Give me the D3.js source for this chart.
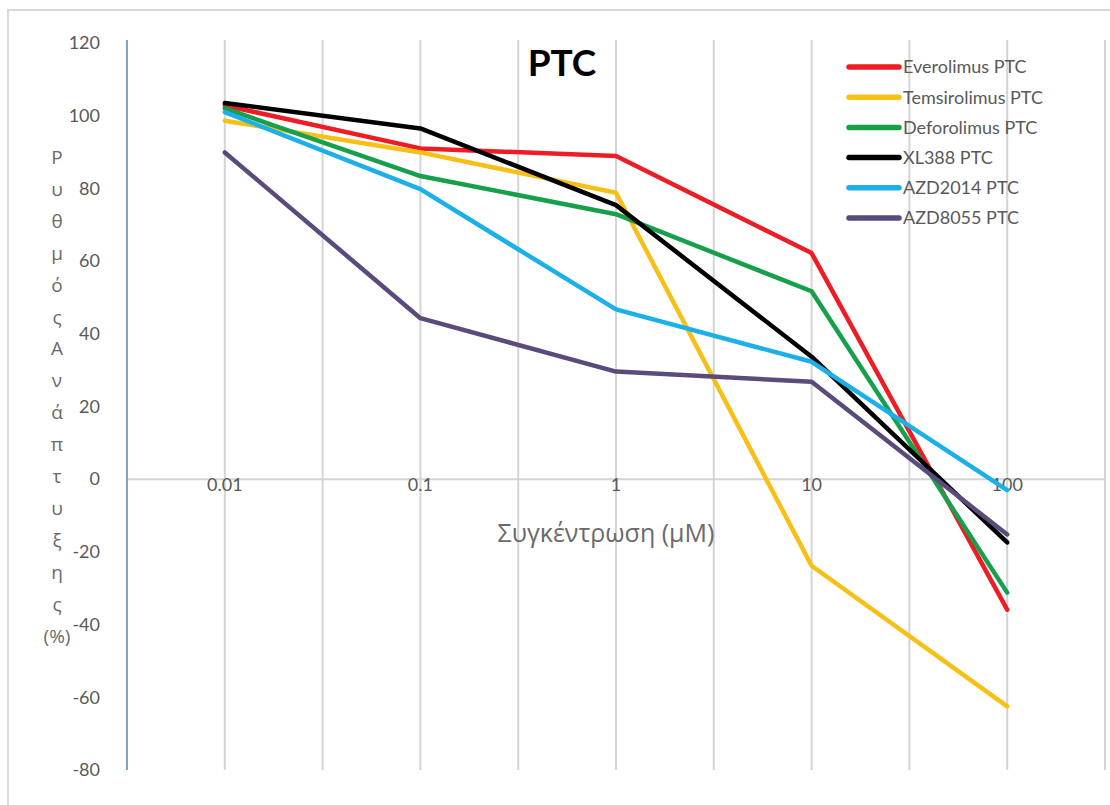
<!DOCTYPE html>
<html>
<head>
<meta charset="utf-8">
<script src="https://cdn.jsdelivr.net/npm/d3@7"></script>
<style>
  body { margin: 0; background: #fff; }
  svg text { font-family: Lato, "Open Sans", sans-serif; fill: #595959; }
  svg text.greek { font-family: "Open Sans", "Noto Sans", sans-serif; fill: #6a6a6a; }
</style>
</head>
<body>
<svg id="chart" width="1110" height="805"></svg>
<script>
const concentrations = ['0.01', '0.1', '1', '10', '100']
const yTicks = [120, 100, 80, 60, 40, 20, 0, -20, -40, -60, -80]

const everolimus = [102.8, 91, 88.9, 62.2, -35.9]
const temsirolimus = [98.6, 89.9, 78.8, -23.8, -62.5]
const deforolimus = [102, 83.4, 72.9, 51.7, -31.2]
const xl388 = [103.5, 96.5, 75.4, 33.7, -17.4]
const azd2014 = [101, 79.8, 46.7, 32.3, -3]
const azd8055 = [89.9, 44.3, 29.6, 26.8, -15.2]

const seriesNames = ['Everolimus PTC', 'Temsirolimus PTC', 'Deforolimus PTC', 'XL388 PTC', 'AZD2014 PTC', 'AZD8055 PTC']
const seriesColors = ['#ee1c24', '#f7c016', '#16a04c', '#000000', '#1cb0e8', '#5b4b7a']
const seriesValues = [everolimus, temsirolimus, deforolimus, xl388, azd2014, azd8055]

const yTitle = ['Ρ', 'υ', 'θ', 'μ', 'ό', 'ς', 'Α', 'ν', 'ά', 'π', 'τ', 'υ', 'ξ', 'η', 'ς', '(%)']

const plot = { left: 127, right: 1105, top: 43, bottom: 770 }

const svg = d3.select('#chart')

// outer chart frame
svg.append('rect')
  .attr('x', 8).attr('y', 10)
  .attr('width', 1110).attr('height', 805)
  .attr('fill', 'none')
  .attr('stroke', '#d9d9d9')
  .attr('stroke-width', 2)

const x = d3.scalePoint()
  .domain(concentrations)
  .range([plot.left, plot.right])
  .padding(0.5)

const y = d3.scaleLinear()
  .domain([-80, 120])
  .range([plot.bottom, plot.top])

// vertical gridlines at each category and between categories
const step = x.step() / 2
const gridX = d3.range(1, concentrations.length * 2 + 1).map((k) => plot.left + k * step)
svg.append('g')
  .selectAll('line')
  .data(gridX)
  .join('line')
  .attr('x1', (d) => d).attr('x2', (d) => d)
  .attr('y1', plot.top - 3).attr('y2', plot.bottom)
  .attr('stroke', '#d4d4d4')
  .attr('stroke-width', 2)

// zero line (category axis)
svg.append('line')
  .attr('x1', plot.left).attr('x2', plot.right)
  .attr('y1', y(0)).attr('y2', y(0))
  .attr('stroke', '#d4d4d4')
  .attr('stroke-width', 2)

// value axis
const yAxis = svg.append('g')
  .attr('transform', `translate(${plot.left},0)`)
  .call(d3.axisLeft(y).tickValues(yTicks).tickSize(0).tickPadding(27).tickFormat((d) => String(d)))
yAxis.select('.domain')
  .attr('stroke', '#7fa6c4')
  .attr('stroke-width', 2)
  .attr('d', `M0,${plot.top - 3}V${plot.bottom}`)
yAxis.selectAll('text')
  .style('font-size', '18px')
  .attr('fill', '#595959')

// category labels under the zero line
svg.append('g')
  .selectAll('text')
  .data(concentrations)
  .join('text')
  .attr('x', (d) => x(d))
  .attr('y', y(0) + 12)
  .attr('text-anchor', 'middle')
  .style('font-size', '18px')
  .text((d) => d)

svg.append('text')
  .attr('class', 'greek')
  .attr('x', 606)
  .attr('y', 542)
  .attr('text-anchor', 'middle')
  .style('font-size', '25px')
  .text('Συγκέντρωση (μΜ)')

// stacked y title
svg.append('g')
  .selectAll('text')
  .data(yTitle)
  .join('text')
  .attr('class', 'greek')
  .attr('x', 57)
  .attr('y', (d, i) => 164 + i * 31.9)
  .attr('text-anchor', 'middle')
  .style('font-size', '19px')
  .text((d) => d)

svg.append('text')
  .attr('x', 562)
  .attr('y', 76)
  .attr('text-anchor', 'middle')
  .style('font-size', '37px')
  .style('font-weight', 'bold')
  .style('fill', '#000')
  .text('PTC')

const line = d3.line()
  .x((d, i) => x(concentrations[i]))
  .y((d) => y(d))

svg.append('g')
  .selectAll('path')
  .data(seriesValues)
  .join('path')
  .attr('d', line)
  .attr('fill', 'none')
  .attr('stroke', (d, i) => seriesColors[i])
  .attr('stroke-width', 4.5)
  .attr('stroke-linejoin', 'round')
  .attr('stroke-linecap', 'round')

const legend = svg.append('g')
  .selectAll('g')
  .data(seriesNames)
  .join('g')
  .attr('transform', (d, i) => `translate(847,${67 + i * 30.2})`)
legend.append('line')
  .attr('x1', 2).attr('x2', 52)
  .attr('stroke', (d, i) => seriesColors[i])
  .attr('stroke-width', 5.5)
  .attr('stroke-linecap', 'round')
legend.append('text')
  .attr('x', 56)
  .attr('dy', '0.35em')
  .style('font-size', '18px')
  .text((d) => d)
</script>
</body>
</html>
